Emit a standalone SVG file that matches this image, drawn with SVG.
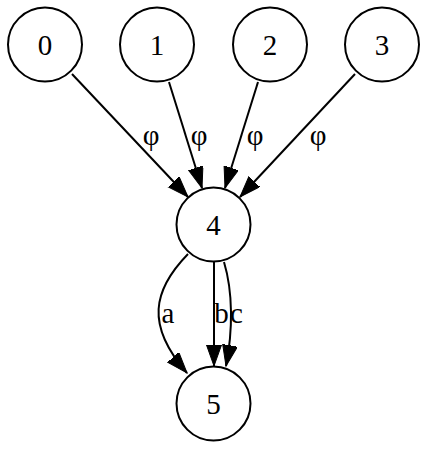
<svg xmlns="http://www.w3.org/2000/svg" width="428" height="449" viewBox="0 0 428 449">
<style>
.n{fill:#fff;stroke:#000;stroke-width:2}
.e{fill:none;stroke:#000;stroke-width:2}
text{font-family:"Liberation Serif","Times New Roman",serif;font-size:29px;fill:#000;text-anchor:middle}
</style>
<defs>
<marker id="ah" markerUnits="userSpaceOnUse" markerWidth="24" markerHeight="18" refX="21" refY="7.5" orient="auto" viewBox="0 0 24 18">
<path d="M0,0 L21,7.5 L0,15 z" fill="#000" stroke="#000" stroke-width="1"/>
</marker>
</defs>
<rect width="428" height="449" fill="#fff"/>
<g id="edges">
<path class="e" d="M72,74 L188,197" marker-end="url(#ah)"/>
<path class="e" d="M169,82 L202,188" marker-end="url(#ah)"/>
<path class="e" d="M258,82 L225,188" marker-end="url(#ah)"/>
<path class="e" d="M355,74 L240,197" marker-end="url(#ah)"/>
<path class="e" d="M188,254 C153,290 145,325 187,373" marker-end="url(#ah)"/>
<path class="e" d="M214,262 L214,366" marker-end="url(#ah)"/>
<path class="e" d="M224,262 C233,292 233,330 226,366" marker-end="url(#ah)"/>
<text x="151" y="145">φ</text>
<text x="199" y="145">φ</text>
<text x="255" y="145">φ</text>
<text x="318" y="145">φ</text>
<text x="168" y="323">a</text>
<text x="221.5" y="323">b</text>
<text x="236.5" y="323">c</text>
</g>
<g id="node0"><circle class="n" cx="45" cy="44.5" r="37"/><text x="45" y="54.5">0</text></g>
<g id="node1"><circle class="n" cx="157" cy="44.5" r="37"/><text x="157" y="54.5">1</text></g>
<g id="node2"><circle class="n" cx="270" cy="44.5" r="37"/><text x="270" y="54.5">2</text></g>
<g id="node3"><circle class="n" cx="382" cy="44.5" r="37"/><text x="382" y="54.5">3</text></g>
<g id="node4"><circle class="n" cx="213.5" cy="224.5" r="37"/><text x="213.5" y="234.5">4</text></g>
<g id="node5"><circle class="n" cx="213.5" cy="403.5" r="37"/><text x="213.5" y="413.5">5</text></g>
</svg>
